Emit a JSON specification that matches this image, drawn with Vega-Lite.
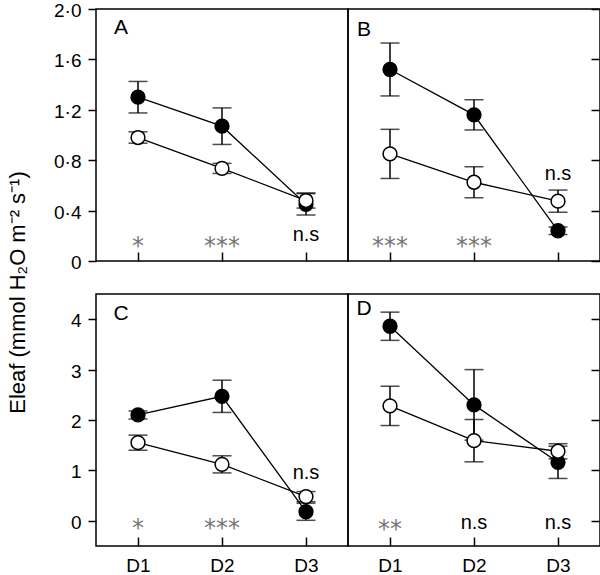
{
  "$schema": "https://vega.github.io/schema/vega-lite/v6.json",
  "padding": {"left": 5, "top": 0, "right": 0, "bottom": 0},
  "background": "white",
  "config": {
    "view": {"stroke": "black", "strokeWidth": 1.5},
    "font": "Liberation Sans",
    "axis": {"grid": false, "domain": false, "tickColor": "black", "tickWidth": 1.5, "labelFontSize": 19, "labelColor": "black", "labelFont": "Liberation Sans", "titleFont": "Liberation Sans", "titleFontSize": 22, "titleFontWeight": "normal", "titleColor": "black"}
  },
  "datasets": {
    "pts": [
      {"panel": "A", "group": "filled", "day": "D1", "eleaf": 1.30, "se": 0.125},
      {"panel": "A", "group": "filled", "day": "D2", "eleaf": 1.07, "se": 0.145},
      {"panel": "A", "group": "filled", "day": "D3", "eleaf": 0.45, "se": 0.085},
      {"panel": "A", "group": "open", "day": "D1", "eleaf": 0.98, "se": 0.045},
      {"panel": "A", "group": "open", "day": "D2", "eleaf": 0.735, "se": 0.04},
      {"panel": "A", "group": "open", "day": "D3", "eleaf": 0.48, "se": 0.06},
      {"panel": "B", "group": "filled", "day": "D1", "eleaf": 1.52, "se": 0.21},
      {"panel": "B", "group": "filled", "day": "D2", "eleaf": 1.16, "se": 0.12},
      {"panel": "B", "group": "filled", "day": "D3", "eleaf": 0.24, "se": 0.03},
      {"panel": "B", "group": "open", "day": "D1", "eleaf": 0.85, "se": 0.195},
      {"panel": "B", "group": "open", "day": "D2", "eleaf": 0.625, "se": 0.123},
      {"panel": "B", "group": "open", "day": "D3", "eleaf": 0.475, "se": 0.088},
      {"panel": "C", "group": "filled", "day": "D1", "eleaf": 2.10, "se": 0.08},
      {"panel": "C", "group": "filled", "day": "D2", "eleaf": 2.47, "se": 0.32},
      {"panel": "C", "group": "filled", "day": "D3", "eleaf": 0.18, "se": 0.17},
      {"panel": "C", "group": "open", "day": "D1", "eleaf": 1.55, "se": 0.15},
      {"panel": "C", "group": "open", "day": "D2", "eleaf": 1.12, "se": 0.17},
      {"panel": "C", "group": "open", "day": "D3", "eleaf": 0.48, "se": 0.1},
      {"panel": "D", "group": "filled", "day": "D1", "eleaf": 3.86, "se": 0.28},
      {"panel": "D", "group": "filled", "day": "D2", "eleaf": 2.30, "se": 0.70},
      {"panel": "D", "group": "filled", "day": "D3", "eleaf": 1.16, "se": 0.32},
      {"panel": "D", "group": "open", "day": "D1", "eleaf": 2.28, "se": 0.39},
      {"panel": "D", "group": "open", "day": "D2", "eleaf": 1.59, "se": 0.42},
      {"panel": "D", "group": "open", "day": "D3", "eleaf": 1.38, "se": 0.15}
    ],
    "sig": [
      {"panel": "A", "day": "D1", "sig": "*", "eleaf": 0.17},
      {"panel": "A", "day": "D2", "sig": "***", "eleaf": 0.17},
      {"panel": "A", "day": "D3", "sig": "n.s", "eleaf": 0.20},
      {"panel": "B", "day": "D1", "sig": "***", "eleaf": 0.165},
      {"panel": "B", "day": "D2", "sig": "***", "eleaf": 0.165},
      {"panel": "B", "day": "D3", "sig": "n.s", "eleaf": 0.68},
      {"panel": "C", "day": "D1", "sig": "*", "eleaf": -0.03},
      {"panel": "C", "day": "D2", "sig": "***", "eleaf": -0.03},
      {"panel": "C", "day": "D3", "sig": "n.s", "eleaf": 0.93},
      {"panel": "D", "day": "D1", "sig": "**", "eleaf": -0.05},
      {"panel": "D", "day": "D2", "sig": "n.s", "eleaf": -0.06},
      {"panel": "D", "day": "D3", "sig": "n.s", "eleaf": -0.06}
    ],
    "letters": [
      {"panel": "A", "day": "D1", "letter": "A", "eleaf": 1.853},
      {"panel": "B", "day": "D1", "letter": "B", "eleaf": 1.833},
      {"panel": "C", "day": "D1", "letter": "C", "eleaf": 4.11},
      {"panel": "D", "day": "D1", "letter": "D", "eleaf": 4.2}
    ]
  },
  "columns": 2,
  "spacing": {"row": 33, "column": 0},
  "bounds": "flush",
  "concat": [
    {
      "width": 252, "height": 252,
      "encoding": {
        "x": {"field": "day", "type": "ordinal", "scale": {"type": "point", "padding": 0.5}, "axis": {"orient": "bottom", "tickSize": -9, "labels": false, "title": null}},
        "y": {"field": "eleaf", "type": "quantitative", "scale": {"domain": [0, 2], "nice": false, "zero": false},
              "axis": {"orient": "left", "values": [0, 0.4, 0.8, 1.2, 1.6, 2.0], "tickSize": 8, "labelPadding": 7, "labelOffset": 1.5, "labelExpr": "datum.value === 0 ? '0' : replace(format(datum.value, '.1f'), '.', '·')", "title": "Eleaf (mmol H₂O m⁻² s⁻¹)", "titleX": -72, "titleY": 283, "titleBaseline": "alphabetic", "titleAngle": 270}}
      },
      "layer": [
        {"data": {"name": "pts"}, "transform": [{"filter": "datum.panel === 'A'"}], "mark": {"type": "errorbar", "ticks": true, "size": 19, "thickness": 1.5, "color": "black"}, "encoding": {"yError": {"field": "se"}}},
        {"data": {"name": "pts"}, "transform": [{"filter": "datum.panel === 'A'"}], "mark": {"type": "line", "color": "black", "strokeWidth": 1.3}, "encoding": {"detail": {"field": "group"}}},
        {"data": {"name": "pts"}, "transform": [{"filter": "datum.panel === 'A'"}], "mark": {"type": "point", "shape": "circle", "size": 190, "strokeWidth": 1.5, "stroke": "black", "opacity": 1, "filled": true}, "encoding": {"fill": {"field": "group", "type": "nominal", "scale": {"domain": ["filled", "open"], "range": ["black", "white"]}, "legend": null}}},
        {"data": {"name": "sig"}, "transform": [{"filter": "datum.panel === 'A' && datum.sig !== 'n.s'"}], "mark": {"type": "text", "font": "DejaVu Sans", "fontSize": 24, "color": "#777777", "baseline": "alphabetic", "dy": 14}, "encoding": {"text": {"field": "sig"}}},
        {"data": {"name": "sig"}, "transform": [{"filter": "datum.panel === 'A' && datum.sig === 'n.s'"}], "mark": {"type": "text", "fontSize": 20, "color": "black", "baseline": "alphabetic", "dy": 5}, "encoding": {"text": {"field": "sig"}}},
        {"data": {"name": "letters"}, "transform": [{"filter": "datum.panel === 'A'"}], "mark": {"type": "text", "fontSize": 21, "color": "black", "align": "center", "baseline": "middle", "dx": -17}, "encoding": {"text": {"field": "letter"}}}
      ]
    },
    {
      "width": 252, "height": 252,
      "encoding": {
        "x": {"field": "day", "type": "ordinal", "scale": {"type": "point", "padding": 0.5}, "axis": {"orient": "bottom", "tickSize": -9, "labels": false, "title": null}},
        "y": {"field": "eleaf", "type": "quantitative", "scale": {"domain": [0, 2], "nice": false, "zero": false},
              "axis": {"orient": "right", "values": [0, 0.4, 0.8, 1.2, 1.6, 2.0], "tickSize": -9, "labels": false, "title": null}}
      },
      "layer": [
        {"data": {"name": "pts"}, "transform": [{"filter": "datum.panel === 'B'"}], "mark": {"type": "errorbar", "ticks": true, "size": 19, "thickness": 1.5, "color": "black"}, "encoding": {"yError": {"field": "se"}}},
        {"data": {"name": "pts"}, "transform": [{"filter": "datum.panel === 'B'"}], "mark": {"type": "line", "color": "black", "strokeWidth": 1.3}, "encoding": {"detail": {"field": "group"}}},
        {"data": {"name": "pts"}, "transform": [{"filter": "datum.panel === 'B'"}], "mark": {"type": "point", "shape": "circle", "size": 190, "strokeWidth": 1.5, "stroke": "black", "opacity": 1, "filled": true}, "encoding": {"fill": {"field": "group", "type": "nominal", "scale": {"domain": ["filled", "open"], "range": ["black", "white"]}, "legend": null}}},
        {"data": {"name": "sig"}, "transform": [{"filter": "datum.panel === 'B' && datum.sig !== 'n.s'"}], "mark": {"type": "text", "font": "DejaVu Sans", "fontSize": 24, "color": "#777777", "baseline": "alphabetic", "dy": 14}, "encoding": {"text": {"field": "sig"}}},
        {"data": {"name": "sig"}, "transform": [{"filter": "datum.panel === 'B' && datum.sig === 'n.s'"}], "mark": {"type": "text", "fontSize": 20, "color": "black", "baseline": "alphabetic", "dy": 5}, "encoding": {"text": {"field": "sig"}}},
        {"data": {"name": "letters"}, "transform": [{"filter": "datum.panel === 'B'"}], "mark": {"type": "text", "fontSize": 21, "color": "black", "align": "center", "baseline": "middle", "dx": -26}, "encoding": {"text": {"field": "letter"}}}
      ]
    },
    {
      "width": 252, "height": 252,
      "encoding": {
        "x": {"field": "day", "type": "ordinal", "scale": {"type": "point", "padding": 0.5}, "axis": {"orient": "bottom", "tickSize": -9, "labelPadding": 19, "labelAngle": 0, "title": null}},
        "y": {"field": "eleaf", "type": "quantitative", "scale": {"domain": [-0.5, 4.5], "nice": false, "zero": false},
              "axis": {"orient": "left", "values": [0, 1, 2, 3, 4], "tickSize": 8, "labelPadding": 7, "labelOffset": 1.5, "format": "d", "title": null}}
      },
      "layer": [
        {"data": {"name": "pts"}, "transform": [{"filter": "datum.panel === 'C'"}], "mark": {"type": "errorbar", "ticks": true, "size": 19, "thickness": 1.5, "color": "black"}, "encoding": {"yError": {"field": "se"}}},
        {"data": {"name": "pts"}, "transform": [{"filter": "datum.panel === 'C'"}], "mark": {"type": "line", "color": "black", "strokeWidth": 1.3}, "encoding": {"detail": {"field": "group"}}},
        {"data": {"name": "pts"}, "transform": [{"filter": "datum.panel === 'C'"}], "mark": {"type": "point", "shape": "circle", "size": 190, "strokeWidth": 1.5, "stroke": "black", "opacity": 1, "filled": true}, "encoding": {"fill": {"field": "group", "type": "nominal", "scale": {"domain": ["filled", "open"], "range": ["black", "white"]}, "legend": null}}},
        {"data": {"name": "sig"}, "transform": [{"filter": "datum.panel === 'C' && datum.sig !== 'n.s'"}], "mark": {"type": "text", "font": "DejaVu Sans", "fontSize": 24, "color": "#777777", "baseline": "alphabetic", "dy": 14}, "encoding": {"text": {"field": "sig"}}},
        {"data": {"name": "sig"}, "transform": [{"filter": "datum.panel === 'C' && datum.sig === 'n.s'"}], "mark": {"type": "text", "fontSize": 20, "color": "black", "baseline": "alphabetic", "dy": 5}, "encoding": {"text": {"field": "sig"}}},
        {"data": {"name": "letters"}, "transform": [{"filter": "datum.panel === 'C'"}], "mark": {"type": "text", "fontSize": 21, "color": "black", "align": "center", "baseline": "middle", "dx": -17}, "encoding": {"text": {"field": "letter"}}}
      ]
    },
    {
      "width": 252, "height": 252,
      "encoding": {
        "x": {"field": "day", "type": "ordinal", "scale": {"type": "point", "padding": 0.5}, "axis": {"orient": "bottom", "tickSize": -9, "labelPadding": 19, "labelAngle": 0, "title": null}},
        "y": {"field": "eleaf", "type": "quantitative", "scale": {"domain": [-0.5, 4.5], "nice": false, "zero": false},
              "axis": {"orient": "right", "values": [0, 1, 2, 3, 4], "tickSize": -9, "labels": false, "title": null}}
      },
      "layer": [
        {"data": {"name": "pts"}, "transform": [{"filter": "datum.panel === 'D'"}], "mark": {"type": "errorbar", "ticks": true, "size": 19, "thickness": 1.5, "color": "black"}, "encoding": {"yError": {"field": "se"}}},
        {"data": {"name": "pts"}, "transform": [{"filter": "datum.panel === 'D'"}], "mark": {"type": "line", "color": "black", "strokeWidth": 1.3}, "encoding": {"detail": {"field": "group"}}},
        {"data": {"name": "pts"}, "transform": [{"filter": "datum.panel === 'D'"}], "mark": {"type": "point", "shape": "circle", "size": 190, "strokeWidth": 1.5, "stroke": "black", "opacity": 1, "filled": true}, "encoding": {"fill": {"field": "group", "type": "nominal", "scale": {"domain": ["filled", "open"], "range": ["black", "white"]}, "legend": null}}},
        {"data": {"name": "sig"}, "transform": [{"filter": "datum.panel === 'D' && datum.sig !== 'n.s'"}], "mark": {"type": "text", "font": "DejaVu Sans", "fontSize": 24, "color": "#777777", "baseline": "alphabetic", "dy": 14}, "encoding": {"text": {"field": "sig"}}},
        {"data": {"name": "sig"}, "transform": [{"filter": "datum.panel === 'D' && datum.sig === 'n.s'"}], "mark": {"type": "text", "fontSize": 20, "color": "black", "baseline": "alphabetic", "dy": 5}, "encoding": {"text": {"field": "sig"}}},
        {"data": {"name": "letters"}, "transform": [{"filter": "datum.panel === 'D'"}], "mark": {"type": "text", "fontSize": 21, "color": "black", "align": "center", "baseline": "middle", "dx": -26}, "encoding": {"text": {"field": "letter"}}}
      ]
    }
  ]
}
